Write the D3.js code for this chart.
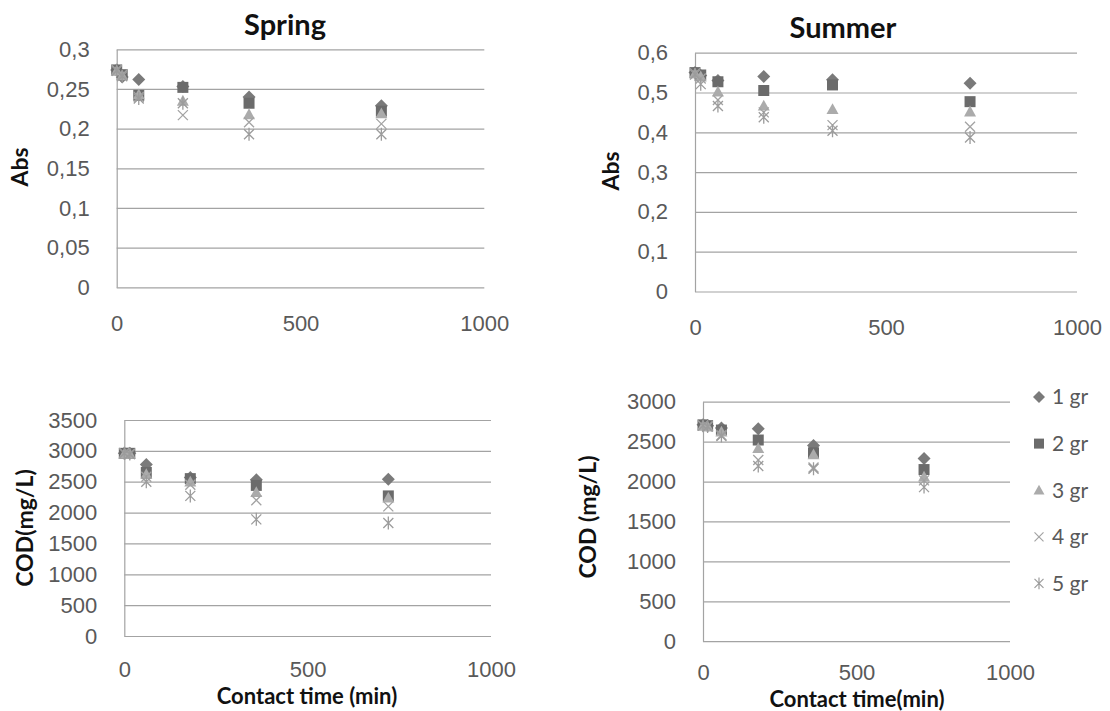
<!DOCTYPE html>
<html>
<head>
<meta charset="utf-8">
<script src="https://cdn.jsdelivr.net/npm/d3@7"></script>
<style>
	body { margin: 0; background: #fff; }
	svg { display: block; font-family: Lato, "Open Sans", sans-serif; }
	.tick text { fill: #595959; font-size: 22px; }
	.tick line, .domain { stroke: #a3a3a3; stroke-width: 1.2; }
	.ttl { font-weight: bold; fill: #111; }
</style>
</head>
<body>
<div id="graph"></div>
<script>
var times = [0, 15, 60, 180, 360, 720],
	seriesNames = ["1 gr", "2 gr", "3 gr", "4 gr", "5 gr"];

// one row per series (1 gr .. 5 gr), one value per contact time
var springAbs = [
	[0.274, 0.265, 0.262, 0.253, 0.240, 0.229],
	[0.274, 0.268, 0.242, 0.252, 0.232, 0.222],
	[0.273, 0.267, 0.243, 0.235, 0.218, 0.219],
	[0.274, 0.268, 0.240, 0.217, 0.208, 0.206],
	[0.273, 0.266, 0.238, 0.232, 0.193, 0.193]
];
var summerAbs = [
	[0.550, 0.543, 0.530, 0.540, 0.532, 0.523],
	[0.550, 0.544, 0.527, 0.505, 0.519, 0.477],
	[0.548, 0.540, 0.502, 0.467, 0.458, 0.452],
	[0.548, 0.535, 0.481, 0.450, 0.418, 0.414],
	[0.545, 0.521, 0.466, 0.438, 0.404, 0.387]
];
var springCOD = [
	[2960, 2960, 2780, 2570, 2530, 2540],
	[2960, 2960, 2650, 2550, 2440, 2270],
	[2950, 2950, 2620, 2500, 2330, 2240],
	[2960, 2950, 2580, 2450, 2200, 2100],
	[2960, 2950, 2500, 2270, 1890, 1830]
];
var summerCOD = [
	[2710, 2700, 2670, 2660, 2450, 2290],
	[2710, 2700, 2645, 2520, 2360, 2150],
	[2700, 2690, 2625, 2416, 2340, 2061],
	[2700, 2690, 2580, 2270, 2175, 2015],
	[2700, 2690, 2570, 2195, 2160, 1930]
];

var xTicks = [0, 500, 1000],
	springAbsTicks = [0, 0.05, 0.1, 0.15, 0.2, 0.25, 0.3],
	summerAbsTicks = [0, 0.1, 0.2, 0.3, 0.4, 0.5, 0.6],
	springCODTicks = [0, 500, 1000, 1500, 2000, 2500, 3000, 3500],
	summerCODTicks = [0, 500, 1000, 1500, 2000, 2500, 3000];

var colors = ["#7a7a7a", "#6b6b6b", "#ababab", "#a3a3a3", "#9c9c9c"];

var svg = d3.select("#graph").append("svg")
	.attr("width", 1110)
	.attr("height", 711);

var fmt = d3.formatLocale({decimal: ",", thousands: "", grouping: [3], currency: ["", ""]}).format("~g");

// marker shapes (size = half width in px)
var shapes = [
	{draw: function(c, r){ c.moveTo(0, -r); c.lineTo(r, 0); c.lineTo(0, r); c.lineTo(-r, 0); c.closePath(); }},
	{draw: function(c, r){ c.rect(-r, -r, 2*r, 2*r); }},
	{draw: function(c, r){ c.moveTo(0, -r); c.lineTo(r, r*0.8); c.lineTo(-r, r*0.8); c.closePath(); }},
	{draw: function(c, r){ c.moveTo(-r, -r); c.lineTo(r, r); c.moveTo(r, -r); c.lineTo(-r, r); }},
	{draw: function(c, r){ c.moveTo(-r, -r); c.lineTo(r, r); c.moveTo(r, -r); c.lineTo(-r, r); c.moveTo(0, -r*1.3); c.lineTo(0, r*1.3); }}
];
var shapeSize = [6.5, 5.5, 6, 5, 5];
var stroked = [false, false, false, true, true];

var panels = [
	{data: springAbs, ticks: springAbsTicks, box: [116.7, 484.3, 49.3, 287.3], xPad: 28,
		title: "Spring", titleX: 285, titleY: 35,
		yTitle: "Abs", yTitleX: 20, yTitleY: 167},
	{data: summerAbs, ticks: summerAbsTicks, box: [695, 1077, 52.7, 291.5], xPad: 27.8,
		title: "Summer", titleX: 843, titleY: 38,
		yTitle: "Abs", yTitleX: 611, yTitleY: 171},
	{data: springCOD, ticks: springCODTicks, box: [124.3, 491, 420, 636], xPad: 25.3,
		xTitle: "Contact time (min)", xTitleX: 307, xTitleY: 704,
		yTitle: "COD(mg/L)", yTitleX: 25, yTitleY: 528},
	{data: summerCOD, ticks: summerCODTicks, box: [703, 1010, 401.7, 641.2], xPad: 23.6,
		xTitle: "Contact time(min)", xTitleX: 857, xTitleY: 707,
		yTitle: "COD (mg/L)", yTitleX: 588, yTitleY: 517}
];

panels.forEach(function(p){
	var b = p.box,
		ticks = p.ticks,
		x = d3.scaleLinear().domain([0, 1000]).range([b[0], b[1]]),
		y = d3.scaleLinear().domain([0, ticks[ticks.length - 1]]).range([b[3], b[2]]);

	var g = svg.append("g");

	g.append("g")
		.attr("transform", "translate(" + b[0] + ",0)")
		.call(d3.axisLeft(y).tickValues(ticks).tickFormat(fmt)
			.tickSize(-(b[1] - b[0])).tickSizeOuter(0).tickPadding(27));

	g.append("g")
		.attr("transform", "translate(0," + b[3] + ")")
		.call(d3.axisBottom(x).tickValues(xTicks).tickFormat(d3.format("d"))
			.tickSize(0).tickPadding(p.xPad))
		.select(".domain").remove();

	if (p.title){
		g.append("text").attr("class", "ttl")
			.attr("x", p.titleX).attr("y", p.titleY)
			.attr("text-anchor", "middle")
			.style("font-size", "29px")
			.text(p.title);
	}
	if (p.xTitle){
		g.append("text").attr("class", "ttl")
			.attr("x", p.xTitleX).attr("y", p.xTitleY)
			.attr("text-anchor", "middle")
			.style("font-size", "22px")
			.text(p.xTitle);
	}
	g.append("text").attr("class", "ttl")
		.attr("transform", "translate(" + p.yTitleX + "," + p.yTitleY + ") rotate(-90)")
		.attr("dy", "0.35em")
		.attr("text-anchor", "middle")
		.style("font-size", "23px")
		.text(p.yTitle);

	p.data.forEach(function(vals, s){
		g.append("g").selectAll("path")
			.data(vals).enter()
			.append("path")
			.attr("transform", function(d, i){ return "translate(" + x(times[i]) + "," + y(d) + ")"; })
			.attr("d", d3.symbol(shapes[s], shapeSize[s]))
			.attr("fill", stroked[s] ? "none" : colors[s])
			.attr("stroke", stroked[s] ? colors[s] : "none")
			.attr("stroke-width", 1.3);
	});
});

// legend
var legend = svg.append("g").selectAll("g")
	.data(seriesNames).enter()
	.append("g")
	.attr("transform", function(d, i){ return "translate(1039," + (397 + i*46.6) + ")"; });

legend.append("path")
	.attr("d", function(d, i){ return d3.symbol(shapes[i], shapeSize[i] - 0.5)(); })
	.attr("fill", function(d, i){ return stroked[i] ? "none" : colors[i]; })
	.attr("stroke", function(d, i){ return stroked[i] ? colors[i] : "none"; })
	.attr("stroke-width", 1.2);

legend.append("text")
	.attr("x", 13)
	.attr("dy", "0.35em")
	.style("font-size", "21px")
	.style("fill", "#595959")
	.text(function(d){ return d; });
</script>
</body>
</html>
